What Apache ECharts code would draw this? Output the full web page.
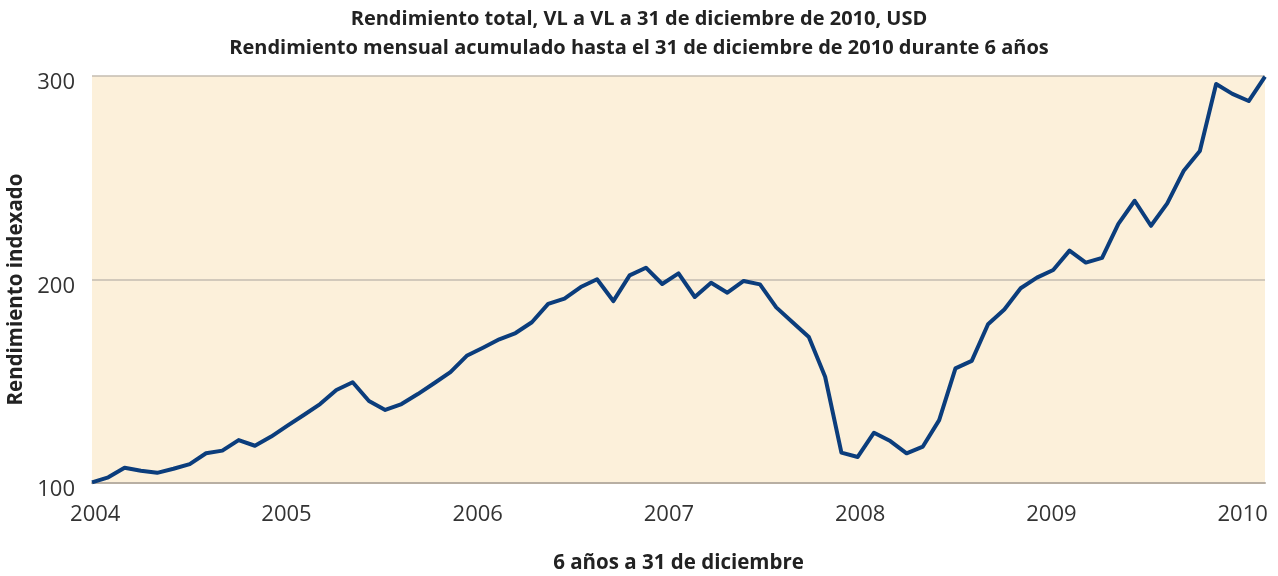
<!DOCTYPE html>
<html>
<head>
<meta charset="utf-8">
<script src="https://cdn.jsdelivr.net/npm/echarts@6/dist/echarts.min.js"></script>
<style>
	html, body { margin: 0; padding: 0; background: #fff; }
	#chart { width: 1278px; height: 576px; }
</style>
</head>
<body>
<div id="chart"></div>
<script>
// 月度数据：2004 → 2010，共 73 个点
var months = [];
for (var m = 0; m < 73; m++) { months.push('M' + m); }

var values = [
	100.3, 102.8, 107.5, 106, 105, 107, 109.3, 114.6, 115.9, 121.1, 118.3, 122.8,
	128.2, 133.4, 138.8, 145.7, 149.5, 140.3, 135.9, 138.8, 143.7, 149, 154.5, 162.5,
	166.5, 170.6, 173.7, 179, 188, 190.6, 196.3, 200.1, 189.4, 202, 205.8, 197.8,
	203, 191.4, 198.4, 193.5, 199.3, 197.6, 186.3, 179, 171.7, 152.2, 114.9, 112.8,
	124.7, 120.6, 114.6, 117.9, 130.9, 156.3, 160, 178, 185.3, 195.7, 200.9, 204.7,
	214.2, 208.3, 210.6, 227.3, 238.7, 226.4, 237.4, 253.3, 263.1, 296.1, 291.2, 287.7,
	299.7
];

// 年份刻度标签
var yearLabels = [2004, 2005, 2006, 2007, 2008, 2009, 2010];

var titleLines = [
	'Rendimiento total, VL a VL a 31 de diciembre de 2010, USD',
	'Rendimiento mensual acumulado hasta el 31 de diciembre de 2010 durante 6 años'
];
var yName = 'Rendimiento indexado';
var xName = '6 años a 31 de diciembre';

var font = 'Open Sans';
var chart = echarts.init(document.getElementById('chart'));

var option = {
	animation: false,
	title: {
		text: titleLines.join('\n'),
		left: 'center',
		top: 0,
		textStyle: {
			fontFamily: font,
			fontSize: 20,
			fontWeight: 'bold',
			color: '#222',
			lineHeight: 29
		}
	},
	grid: {
		left: 92,
		right: 13,
		top: 76,
		bottom: 93,
		outerBoundsMode: 'none',
		show: true,
		backgroundColor: '#fcf0da',
		borderWidth: 0
	},
	xAxis: [{
		type: 'category',
		data: months,
		boundaryGap: false,
		axisLine: { show: true, lineStyle: { color: '#b8afa3', width: 2 } },
		axisTick: { show: false },
		axisLabel: { show: false },
		splitLine: { show: false },
		name: xName,
		nameLocation: 'middle',
		nameGap: 70,
		nameTextStyle: { fontFamily: font, fontSize: 20.5, fontWeight: 'bold', color: '#222' }
	}, {
		// 年份标签轴
		type: 'value',
		position: 'bottom',
		min: 2003.983,
		max: 2010.117,
		axisLine: { show: false },
		axisTick: { show: false },
		splitLine: { show: false },
		axisLabel: {
			customValues: yearLabels,
			formatter: function(v) { return String(Math.round(v)); },
			fontFamily: font,
			fontSize: 22,
			color: '#333',
			margin: 21
		}
	}],
	yAxis: {
		type: 'value',
		min: 100,
		max: 300,
		interval: 100,
		axisLine: { show: false },
		axisTick: { show: false },
		splitLine: { lineStyle: { color: '#c4bcb0', width: 1.5 } },
		axisLabel: {
			fontFamily: font,
			fontSize: 22,
			color: '#333',
			margin: 17,
			verticalAlign: 'top',
			lineHeight: 14
		},
		name: yName,
		nameLocation: 'middle',
		nameGap: 62,
		nameRotate: 90,
		nameTextStyle: {
			fontFamily: font, fontSize: 20.5, fontWeight: 'bold', color: '#222',
			padding: [0, 20, 0, 0]
		}
	},
	series: [{
		type: 'line',
		data: values,
		xAxisIndex: 0,
		symbol: 'none',
		lineStyle: { color: '#0b3d7c', width: 4, join: 'round' }
	}]
};

chart.setOption(option);
</script>
</body>
</html>
